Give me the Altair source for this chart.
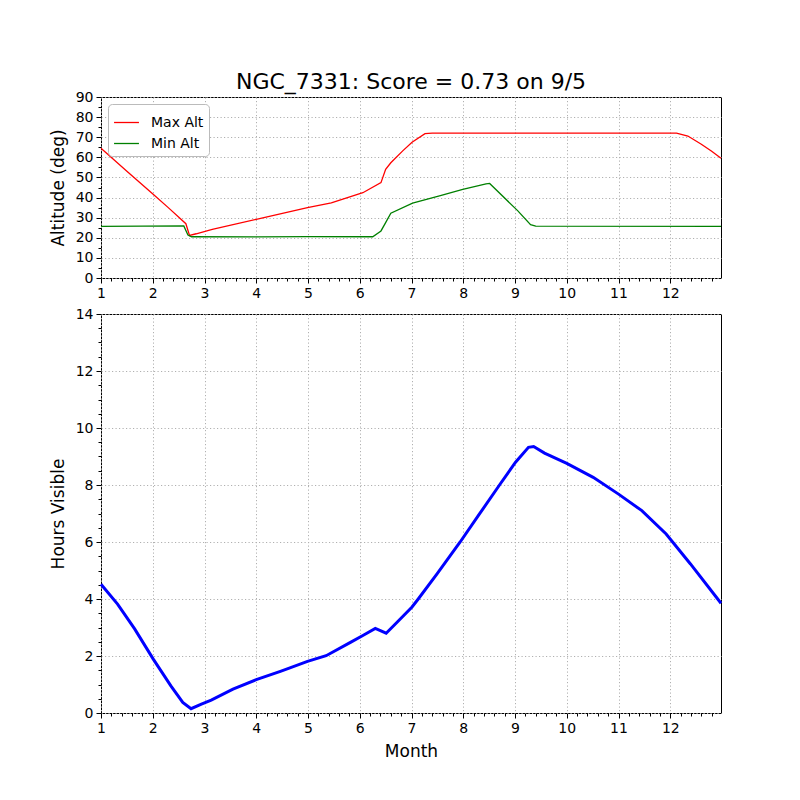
import altair as alt
import pandas as pd

# ---- data ----
max_month = [1.0, 1.5, 2.03, 2.3, 2.64, 2.71, 2.84, 3.15, 4.0, 4.99, 5.45, 6.06, 6.41,
             6.5, 6.6, 6.83, 7.01, 7.26, 7.4, 12.0, 12.12, 12.34, 12.6, 12.8, 12.98]
max_alt = [64.5, 53.1, 41.2, 35.0, 27.0, 21.2, 22.0, 24.2, 29.2, 35.0, 37.4, 42.4, 47.4,
           54.0, 57.3, 63.2, 67.5, 71.8, 72.0, 72.0, 72.0, 70.6, 66.5, 63.0, 59.5]

min_month = [1.0, 2.6, 2.68, 2.75, 4.0, 5.0, 6.25, 6.41, 6.5, 6.6, 7.02, 7.54, 7.99,
             8.44, 8.51, 9.05, 9.3, 9.4, 12.98]
min_alt = [25.7, 25.9, 21.4, 20.5, 20.4, 20.6, 20.5, 23.4, 27.5, 32.2, 37.2, 40.8, 44.1,
           46.8, 47.0, 33.5, 26.5, 25.8, 25.7]

hours_month = [1.0, 1.32, 1.65, 2.01, 2.35, 2.58, 2.74, 2.94, 3.13, 3.55, 4.0, 4.48, 4.99,
               5.35, 5.82, 6.06, 6.30, 6.51, 6.74, 7.01, 7.13, 7.5, 7.94, 8.3, 8.7, 9.01,
               9.26, 9.36, 9.57, 10.0, 10.51, 11.0, 11.45, 11.92, 12.39, 12.98]
hours_vis = [4.52, 3.82, 2.95, 1.89, 0.95, 0.37, 0.15, 0.31, 0.45, 0.84, 1.17, 1.47, 1.81,
             2.01, 2.48, 2.72, 2.97, 2.80, 3.22, 3.72, 4.0, 4.9, 6.0, 6.95, 8.0, 8.8,
             9.32, 9.35, 9.12, 8.76, 8.27, 7.68, 7.1, 6.28, 5.23, 3.85]

series_names = ["Max Alt", "Min Alt"]
series_colors = ["#ff0000", "#008000"]
title_text = "NGC_7331: Score = 0.73 on 9/5"

alt_df = pd.concat([
    pd.DataFrame({"month": max_month, "value": max_alt, "series": series_names[0]}),
    pd.DataFrame({"month": min_month, "value": min_alt, "series": series_names[1]}),
])
hours_df = pd.DataFrame({"month": hours_month, "hours": hours_vis})

FONT = "DejaVu Sans"
X_DOMAIN = [1, 12.98]
x_ticks = [round(1 + i * 0.2, 1) for i in range(60)]
alt_ticks = [i * 5 for i in range(19)]
hour_ticks = [i * 0.5 for i in range(29)]


def axis(values, major, title):
    test = f"abs(datum.value / {major} - round(datum.value / {major})) < 0.001"
    return alt.Axis(
        values=values,
        title=title,
        labelExpr=f"{test} ? format(datum.value, 'd') : ''",
        labelOverlap=False,
        labelFlush=False,
        labelFont=FONT, labelFontSize=14, labelColor="black",
        titleFont=FONT, titleFontSize=17, titleFontWeight="normal", titleColor="black",
        tickColor="black", tickWidth=1,
        tickSize={"condition": {"test": test, "value": 5}, "value": 3},
        labelPadding=3,
        domain=False,
        grid=True,
        gridColor="#b0b0b0",
        gridDash=[1.2, 2.3],
        gridWidth=1,
        gridOpacity={"condition": {"test": test, "value": 1}, "value": 0},
    )


top = alt.Chart(alt_df).mark_line(strokeWidth=1.3).encode(
    x=alt.X("month:Q", scale=alt.Scale(domain=X_DOMAIN, nice=False, zero=False),
            axis=axis(x_ticks, 1, None)),
    y=alt.Y("value:Q", scale=alt.Scale(domain=[0, 90], nice=False),
            axis=axis(alt_ticks, 10, "Altitude (deg)")),
    color=alt.Color("series:N",
                    scale=alt.Scale(domain=series_names, range=series_colors),
                    legend=alt.Legend(
                        title=None, orient="top-left", offset=7,
                        symbolType="stroke", symbolSize=620, symbolStrokeWidth=1.3,
                        labelFont=FONT, labelFontSize=14, labelColor="black",
                        labelOffset=11,
                        strokeColor="#bbbbbb", fillColor="white", cornerRadius=4,
                        padding=5, rowPadding=-2)),
).properties(
    width=620, height=181,
    title=alt.TitleParams(title_text, font=FONT, fontSize=22, fontWeight="normal",
                          color="black", anchor="middle", offset=-4),
)

bottom = alt.Chart(hours_df).mark_line(strokeWidth=3, color="#0000ff").encode(
    x=alt.X("month:Q", scale=alt.Scale(domain=X_DOMAIN, nice=False, zero=False),
            axis=axis(x_ticks, 1, "Month")),
    y=alt.Y("hours:Q", scale=alt.Scale(domain=[0, 14], nice=False),
            axis=axis(hour_ticks, 2, "Hours Visible")),
).properties(width=620, height=399)

chart = alt.vconcat(top, bottom, spacing=5).properties(
    padding={"left": 48, "top": 70, "right": 5, "bottom": 5},
    background="white",
).configure_view(stroke="black", strokeWidth=1).configure_axis(titlePadding=8)

chart.save("out.html", embed_options={"renderer": "svg", "actions": False})
